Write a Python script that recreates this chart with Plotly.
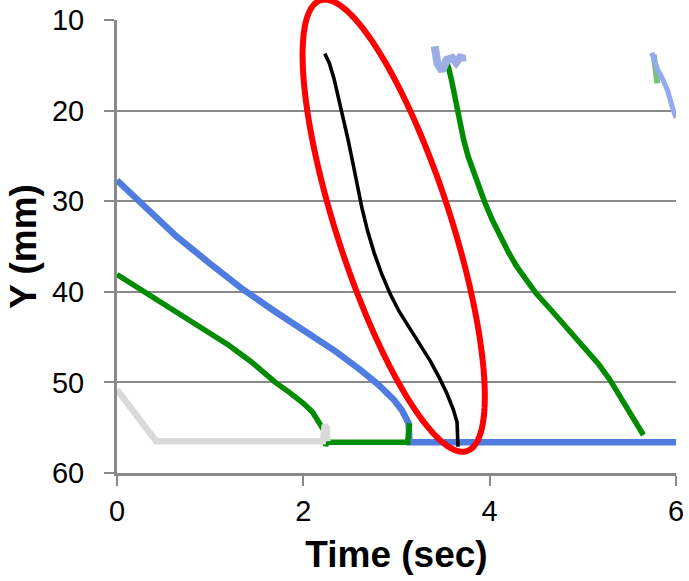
import numpy as np
import plotly.graph_objects as go

# ---------------- data ----------------
blue1_t = [0.00, 0.30, 0.64, 1.00, 1.36, 1.70, 2.07, 2.35, 2.61, 2.80, 2.97, 3.06, 3.13, 3.14,
           3.40, 4.00, 4.50, 5.00, 5.50, 6.00]
blue1_y = [27.7, 30.6, 33.9, 36.9, 39.8, 42.2, 44.6, 46.6, 48.6, 50.2, 51.9, 53.1, 54.5, 56.6,
           56.6, 56.6, 56.6, 56.6, 56.6, 56.6]

green1_t = [0.00, 0.29, 0.60, 0.90, 1.20, 1.45, 1.70, 1.85, 2.00, 2.10, 2.18, 2.22, 2.24, 2.25,
            2.27, 2.60, 3.00, 3.12, 3.13, 3.14]
green1_y = [38.1, 40.0, 42.0, 43.9, 45.9, 47.8, 50.0, 51.1, 52.3, 53.3, 54.5, 55.3, 57.0, 56.7,
            56.6, 56.6, 56.6, 56.6, 55.5, 54.5]

gray_t = [0.00, 0.39, 0.42, 1.00, 1.50, 2.00, 2.21, 2.23, 2.25, 2.26]
gray_y = [50.8, 56.0, 56.5, 56.5, 56.5, 56.5, 56.5, 54.7, 55.0, 56.5]

black_t = [2.23, 2.28, 2.33, 2.38, 2.43, 2.48, 2.53, 2.58, 2.63, 2.69, 2.76, 2.84, 2.93, 3.03,
           3.14, 3.25, 3.36, 3.46, 3.54, 3.61, 3.65, 3.66]
black_y = [13.7, 14.8, 16.5, 18.6, 20.8, 23.2, 25.7, 28.3, 30.8, 33.3, 35.7, 38.0, 40.2, 42.2,
           44.0, 45.8, 47.6, 49.5, 51.2, 53.0, 54.4, 57.1]

green2_t = [3.52, 3.56, 3.59, 3.62, 3.65, 3.68, 3.72, 3.77, 3.83, 3.89, 3.95, 4.03, 4.11, 4.20,
            4.29, 4.40, 4.50, 4.65, 4.79, 4.92, 5.04, 5.17, 5.29, 5.38, 5.47, 5.56, 5.65]
green2_y = [14.2, 15.3, 16.6, 18.2, 19.9, 21.5, 23.2, 25.1, 26.9, 28.6, 30.2, 32.1, 33.9, 35.6,
            37.2, 38.8, 40.2, 41.9, 43.5, 45.0, 46.4, 48.0, 49.7, 51.2, 52.7, 54.3, 55.8]

lblue1_t = [3.41, 3.44, 3.49, 3.54, 3.60, 3.64, 3.70, 3.71]
lblue1_y = [12.9, 14.8, 15.6, 14.4, 14.2, 14.7, 13.9, 14.6]

lgreen_t = [5.76, 5.78, 5.80]
lgreen_y = [13.8, 15.5, 17.0]

lblue2_t = [5.74, 5.80, 5.86, 5.91, 5.96, 6.00]
lblue2_y = [13.6, 15.4, 16.6, 17.8, 19.6, 20.8]

x_ticks = [0, 2, 4, 6]
y_ticks = [10, 20, 30, 40, 50, 60]

# ---------------- layout constants ----------------
W, H = 689, 581
ML, MR, MT, MB = 117, 13, 20, 108
PW, PH = W - ML - MR, H - MT - MB
XR = [0, 6]
YR = [60, 10]

# highlight ellipse (centre in data units, semi-axes in px, tilt from vertical)
ell_ct, ell_cy = 2.97, 32.7
ell_a, ell_b, ell_tilt = 237, 57, 18.0

fig = go.Figure()

def add(t, y, color, width, opacity=1.0):
    fig.add_trace(go.Scatter(x=t, y=y, mode="lines",
                             line=dict(color=color, width=width),
                             opacity=opacity, hoverinfo="skip"))

add(blue1_t, blue1_y, "#4f7ddf", 6.5)
add(green1_t, green1_y, "#008c00", 5.5)
add(gray_t, gray_y, "#d9d9d9", 6.5)
add(black_t, black_y, "#000000", 3.6)
add(green2_t, green2_y, "#008c00", 5.5)
add(lblue1_t, lblue1_y, "#9caee3", 8)
add(lgreen_t, lgreen_y, "#7fc07f", 6)
add(lblue2_t, lblue2_y, "#93a9f2", 5)

# ellipse path in paper coordinates
cx_px = (ell_ct - XR[0]) / (XR[1] - XR[0]) * PW
cy_px = (ell_cy - YR[1]) / (YR[0] - YR[1]) * PH  # from top of plot
th = np.deg2rad(ell_tilt)
s = np.linspace(0, 2 * np.pi, 181)
ux, uy = np.sin(th), np.cos(th)      # major axis direction (down-right)
vx, vy = np.cos(th), -np.sin(th)
px = cx_px + ell_a * np.cos(s) * ux + ell_b * np.sin(s) * vx
py = cy_px + ell_a * np.cos(s) * uy + ell_b * np.sin(s) * vy
xp = px / PW
yp = 1 - py / PH
path = "M " + " L ".join(f"{a:.5f},{b:.5f}" for a, b in zip(xp, yp)) + " Z"
fig.add_shape(type="path", path=path, xref="paper", yref="paper",
              line=dict(color="#ff0000", width=6), layer="above")

tick_font = dict(family="Liberation Sans, Arial, sans-serif", size=29, color="#000000")
title_font = dict(family="Liberation Sans Narrow, Arial Narrow, Liberation Sans, Arial, sans-serif",
                  size=37, color="#000000")

fig.update_layout(
    width=W, height=H,
    margin=dict(l=ML, r=MR, t=MT, b=MB, pad=0, autoexpand=False),
    paper_bgcolor="white", plot_bgcolor="white",
    showlegend=False,
    xaxis=dict(range=XR, tickvals=x_ticks, ticktext=[str(v) for v in x_ticks],
               showgrid=False, zeroline=False, automargin=False,
               showline=True, linecolor="#898989", linewidth=3,
               ticks="outside", ticklen=10, tickwidth=2, tickcolor="#898989",
               tickfont=tick_font, ticklabelstandoff=0,
               title=dict(text="<b>Time (sec)</b>", font=title_font, standoff=16)),
    yaxis=dict(range=YR, tickvals=y_ticks, ticktext=[str(v) for v in y_ticks],
               showgrid=True, gridcolor="#898989", gridwidth=2, zeroline=False, automargin=False,
               showline=True, linecolor="#898989", linewidth=3,
               ticks="outside", ticklen=10, tickwidth=2, tickcolor="#898989",
               tickfont=tick_font, ticklabelstandoff=14,
               title=dict(text="<b>Y (mm)</b>", font=title_font, standoff=4)),
)

fig.write_html("out.html")
